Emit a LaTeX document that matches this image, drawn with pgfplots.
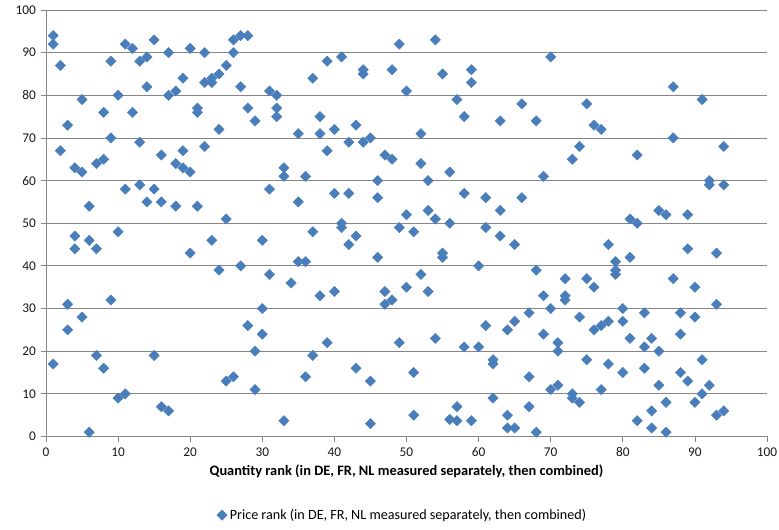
\documentclass[border=0pt]{standalone}
\usepackage{fontspec}
\setmainfont{Carlito}
\usepackage{pgfplots}
\usepackage{pgfplotstable}
\pgfplotsset{compat=1.18}

\definecolor{markblue}{RGB}{74,126,187}
\definecolor{gridgray}{RGB}{134,134,134}

% Quantity rank (x) against price rank (y)
\pgfplotstableread{
x y
1 94
1 92
1 17
2 87
2 67
3 73
3 31
3 25
4 63
4 47
4 44
5 79
5 62
5 28
6 54
6 46
6 1
7 64
7 44
7 19
8 76
8 65
8 16
9 88
9 70
9 32
10 80
10 48
10 9
11 92
11 58
11 10
12 91
12 76
13 88
13 69
13 59
14 89
14 82
14 55
15 93
15 58
15 19
16 66
16 55
16 7
17 90
17 80
17 6
18 81
18 64
18 54
19 84
19 67
19 63
20 91
20 62
20 43
21 77
21 76
21 54
22 90
22 83
22 68
23 84
23 83
23 46
24 85
24 72
24 39
25 87
25 51
25 13
26 93
26 90
26 14
27 94
27 82
27 40
28 94
28 77
28 26
29 74
29 20
29 11
30 46
30 30
30 24
31 81
31 58
31 38
32 80
32 77
32 75
33 63
33 61
33 3.7
34 36
35 71
35 55
35 41
36 61
36 41
36 14
37 84
37 48
37 19
38 75
38 71
38 33
39 88
39 67
39 22
40 72
40 57
40 34
41 89
41 50
41 49
42 69
42 57
42 45
43 73
43 47
43 16
44 86
44 85
44 69
45 70
45 13
45 3
46 60
46 56
46 42
47 66
47 34
47 31
48 86
48 65
48 32
49 92
49 49
49 22
50 81
50 52
50 35
51 48
51 15
51 5
52 71
52 64
52 38
53 60
53 53
53 34
54 93
54 51
54 23
55 85
55 43
55 42
56 62
56 50
56 4
57 79
57 7
57 3.7
58 75
58 57
58 21
59 86
59 83
59 3.7
60 40
60 21
61 56
61 49
61 26
62 18
62 17
62 9
63 74
63 53
63 47
64 25
64 5
64 2
65 45
65 27
65 2
66 78
66 56
67 29
67 14
67 7
68 74
68 39
68 1
69 61
69 33
69 24
70 89
70 30
70 11
71 22
71 20
71 12
72 37
72 33
72 32
73 65
73 10
73 9
74 68
74 28
74 8
75 78
75 37
75 18
76 73
76 35
76 25
77 72
77 26
77 11
78 45
78 27
78 17
79 41
79 39
79 38
80 30
80 27
80 15
81 51
81 42
81 23
82 66
82 50
82 3.7
83 29
83 21
83 16
84 23
84 6
84 2
85 53
85 20
85 12
86 52
86 8
86 1
87 82
87 70
87 37
88 29
88 24
88 15
89 52
89 44
89 13
90 35
90 28
90 8
91 79
91 18
91 10
92 60
92 59
92 12
93 43
93 31
93 5
94 68
94 59
94 6
}\ranks

\begin{document}
\begin{tikzpicture}
\path[use as bounding box] (-34.5pt,-69.75pt) rectangle (550pt,327.5pt);
\begin{axis}[
  scale only axis,
  width=541pt, height=320pt,
  xmin=0, xmax=100, ymin=0, ymax=100,
  xtick={0,10,...,100}, ytick={0,10,...,100},
  axis x line*=bottom, axis y line*=left,
  axis line style={-, draw=gridgray, line width=0.6pt},
  tick align=outside, major tick length=4pt,
  tick style={draw=gridgray, line width=0.6pt},
  ymajorgrids, grid style={draw=gridgray, line width=0.6pt},
  /pgf/number format/assume math mode=true,
  tick label style={font=\fontsize{10}{12}\selectfont, text=black!90},
  xticklabel style={yshift=-1pt},
  xlabel={\bfseries Quantity rank (in DE, FR, NL measured separately, then combined)},
  xlabel style={font=\fontsize{10.8}{13}\selectfont, yshift=1pt},
  legend style={draw=none, fill=none,
    at={([yshift=-59pt]axis description cs:0.495,0)}, anchor=center,
    font=\fontsize{10.6}{13}\selectfont},
  legend image code/.code={\draw[mark repeat=2,mark phase=2]
    plot coordinates {(0cm,0cm) (0.1cm,0cm)};},
  clip=false,
]
\addplot[only marks, mark=square*, mark size=2.7pt,
  mark options={rotate=45, fill=markblue, draw=markblue}]
  table[x=x, y=y] {\ranks};
\addlegendentry{Price rank (in DE, FR, NL measured separately, then combined)}
\end{axis}
\end{tikzpicture}
\end{document}
